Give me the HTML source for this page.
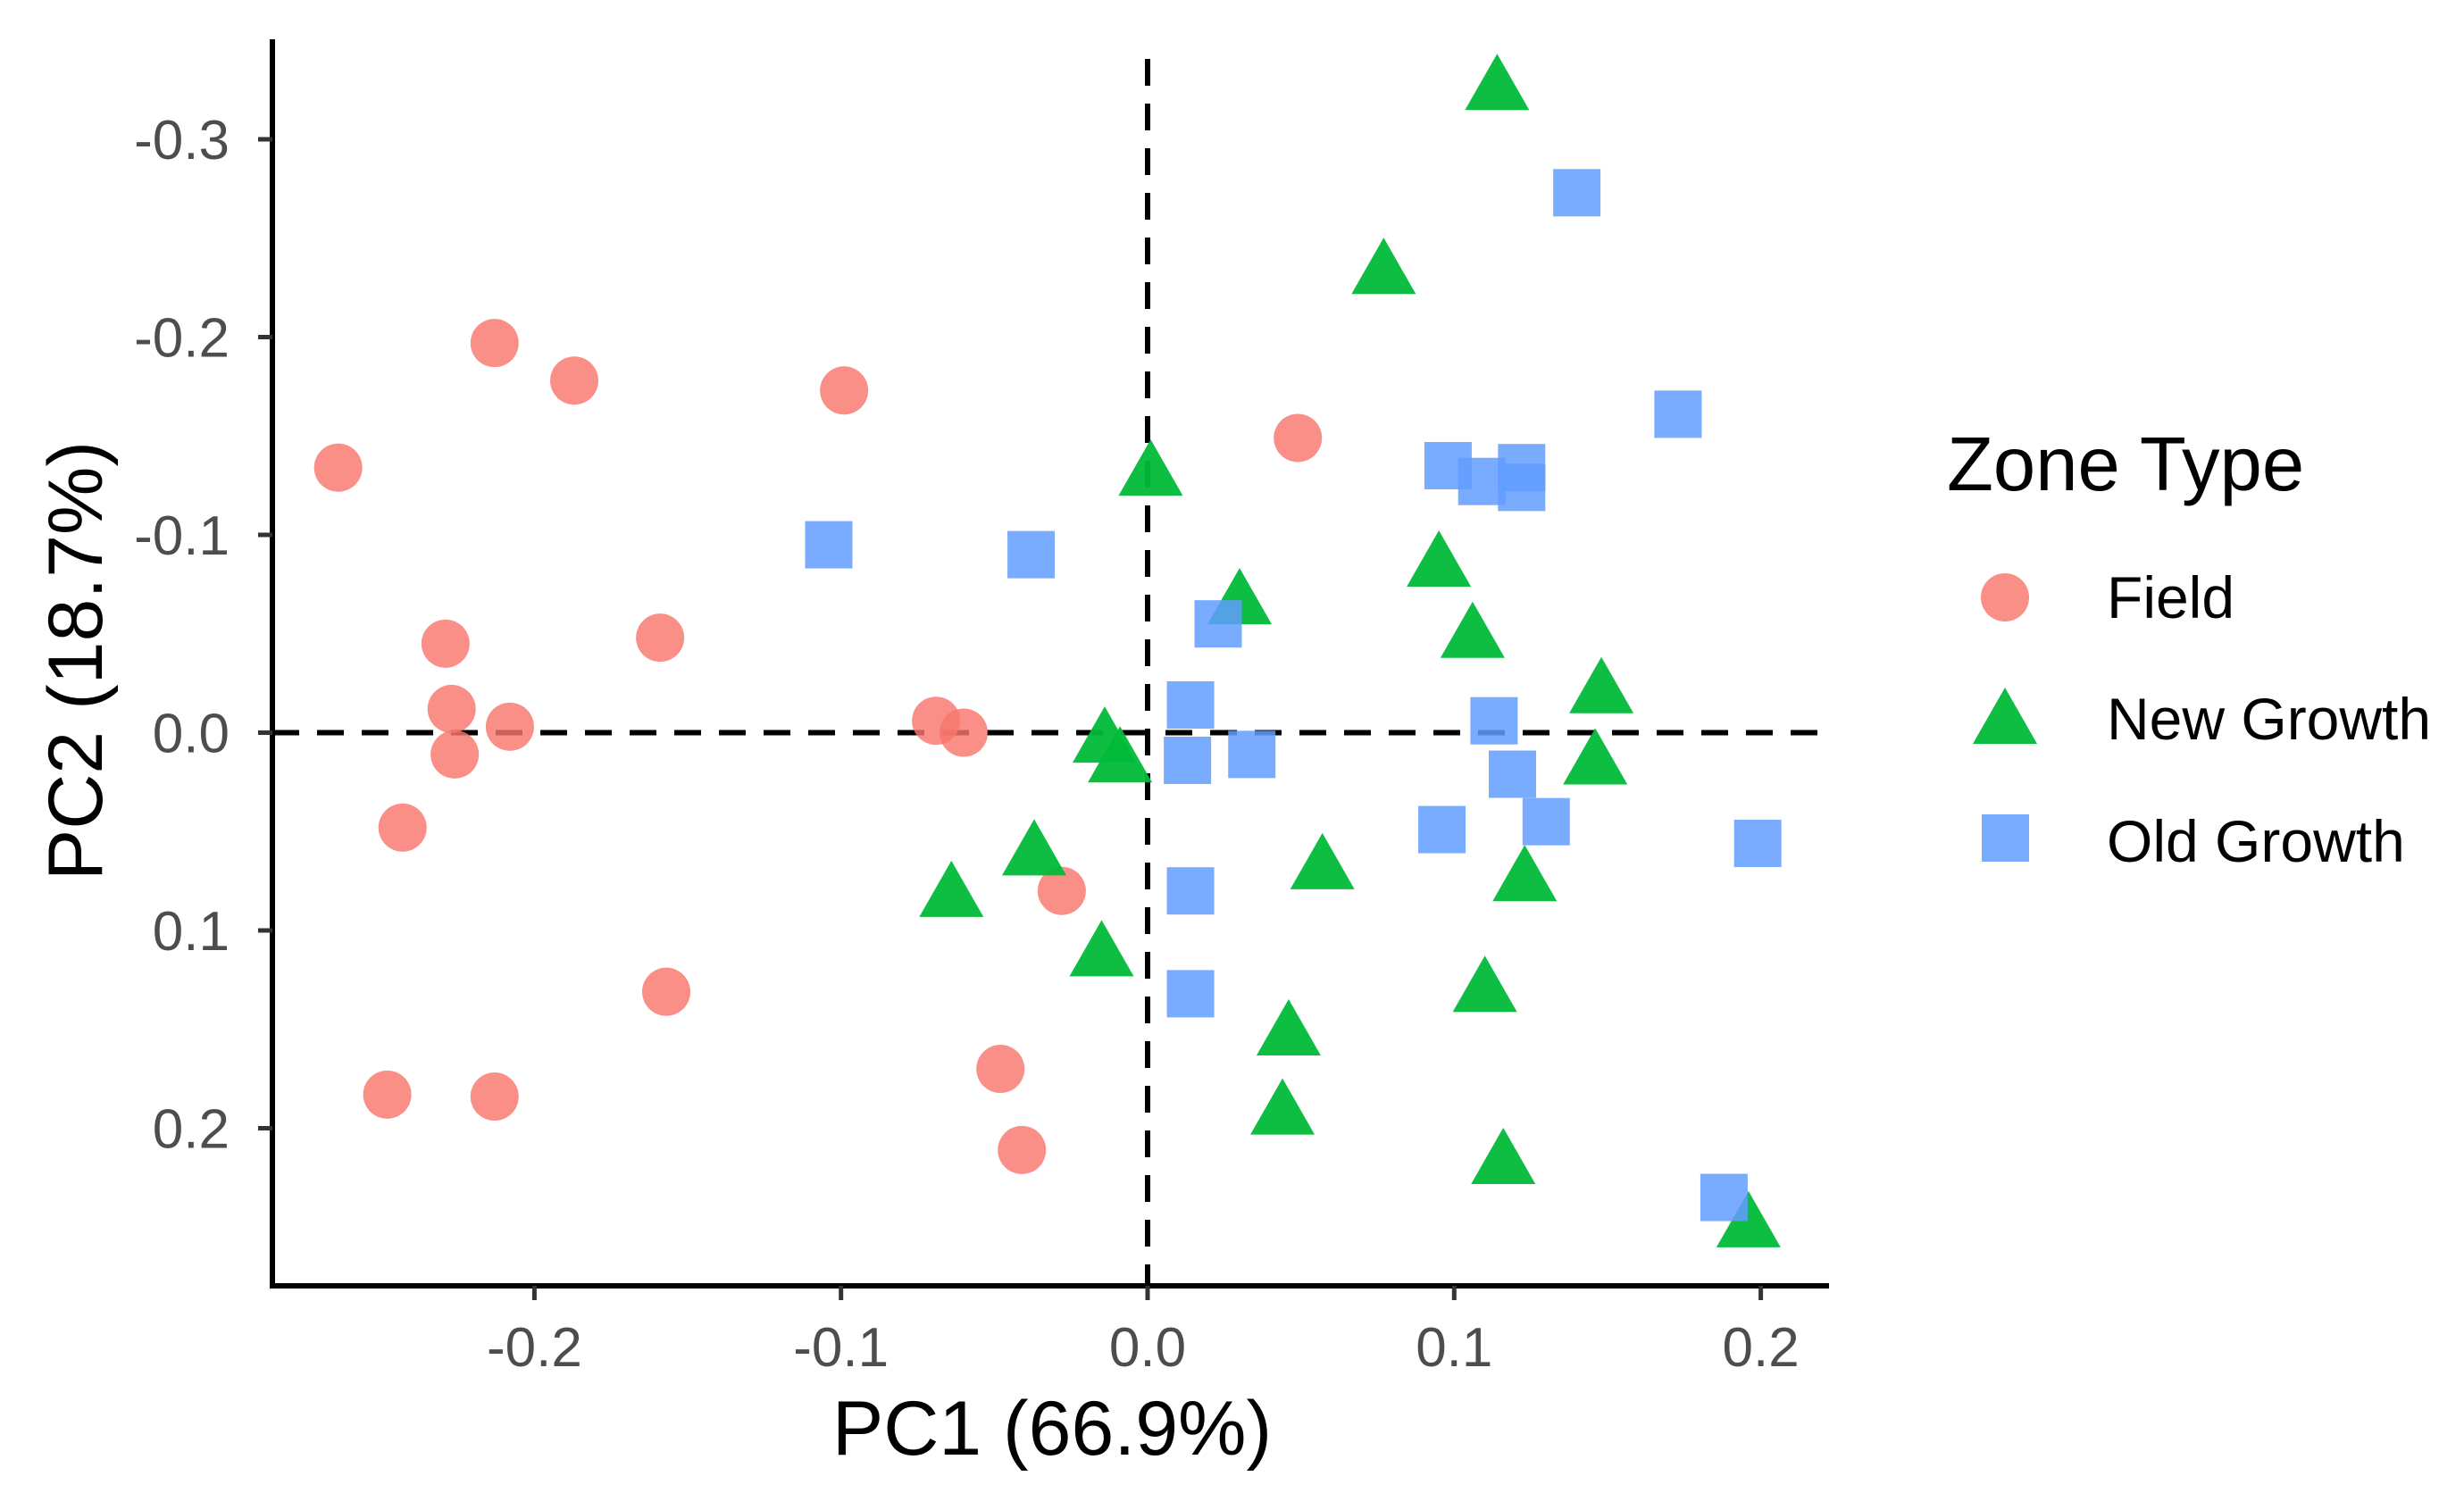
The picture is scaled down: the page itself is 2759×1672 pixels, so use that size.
<!DOCTYPE html>
<html><head><meta charset="utf-8"><style>
html,body{margin:0;padding:0;background:#fff;}
svg{display:block;font-family:"Liberation Sans",Arial,sans-serif;}
</style></head><body>
<svg id="chart" width="2759" height="1672" viewBox="0 0 2759 1672">
<g id="grid"></g>
<g id="marks"></g>
<g id="axes"></g>
<g>
  <text x="2180" y="549" font-size="85" fill="#000">Zone Type</text>
  <circle cx="2245" cy="669" r="27" fill="#F8766D" fill-opacity="0.82"/>
  <text x="2359" y="692" font-size="66" fill="#000">Field</text>
  <polygon points="2245,770 2281,833 2209,833" fill="#00BA38" fill-opacity="0.95"/>
  <text x="2359" y="828" font-size="66" fill="#000">New Growth</text>
  <rect x="2219" y="912" width="53" height="53" fill="#619CFF" fill-opacity="0.85"/>
  <text x="2359" y="965" font-size="66" fill="#000">Old Growth</text>
</g>
<text x="1178" y="1629" font-size="86" text-anchor="middle" fill="#000">PC1 (66.9%)</text>
<text transform="translate(114,740) rotate(-90)" font-size="86" text-anchor="middle" fill="#000">PC2 (18.7%)</text>
</svg>
<script>
const xTicks = [-0.2, -0.1, 0.0, 0.1, 0.2];
const xTickLabels = ["-0.2", "-0.1", "0.0", "0.1", "0.2"];
const yTicks = [-0.3, -0.2, -0.1, 0.0, 0.1, 0.2];
const yTickLabels = ["-0.3", "-0.2", "-0.1", "0.0", "0.1", "0.2"];
const fieldX = [-0.264,-0.213,-0.187,-0.099,0.049,-0.229,-0.159,-0.227,-0.208,-0.226,-0.243,-0.069,-0.060,-0.028,-0.157,-0.048,-0.248,-0.213,-0.041];
const fieldY = [-0.134,-0.197,-0.178,-0.173,-0.149,-0.045,-0.048,-0.012,-0.003,0.011,0.048,-0.006,0.000,0.080,0.131,0.170,0.183,0.184,0.211];
const newX = [0.114,0.077,0.001,0.095,0.030,0.106,0.148,-0.014,-0.009,0.146,-0.037,-0.064,0.057,0.123,-0.015,0.110,0.046,0.044,0.116,0.196];
const newY = [-0.327,-0.234,-0.132,-0.086,-0.067,-0.050,-0.022,0.003,0.013,0.014,0.060,0.081,0.067,0.073,0.111,0.129,0.151,0.191,0.216,0.248];
const oldX = [0.140,0.173,0.098,0.109,0.122,0.122,-0.104,-0.038,0.023,0.014,0.113,0.013,0.034,0.119,0.130,0.096,0.199,0.014,0.014,0.188];
const oldY = [-0.273,-0.161,-0.135,-0.127,-0.134,-0.124,-0.095,-0.090,-0.055,-0.014,-0.006,0.014,0.011,0.021,0.045,0.049,0.056,0.080,0.132,0.235];

const NS = "http://www.w3.org/2000/svg";
const X0 = 1285, XS = 3433, Y0 = 820.5, YS = 2215;
const PL = 305, PR = 2048, PT = 44, PB = 1440;
function sx(v){ return X0 + v * XS; }
function sy(v){ return Y0 + v * YS; }
function mk(parent, tag, attrs){
  const e = document.createElementNS(NS, tag);
  for (const k in attrs) e.setAttribute(k, attrs[k]);
  parent.appendChild(e);
  return e;
}
const grid = document.getElementById('grid');
const marks = document.getElementById('marks');
const axes = document.getElementById('axes');

let l = mk(grid, 'line', {x1: sx(0), x2: sx(0), y1: 66, y2: PB, stroke: '#000', 'stroke-width': 6, 'stroke-dasharray': '30 20'});


l = mk(grid, 'line', {x1: PL, x2: 2052, y1: sy(0), y2: sy(0), stroke: '#000', 'stroke-width': 6, 'stroke-dasharray': '30 20'});



for (let i = 0; i < fieldX.length; i++) {
  const c = mk(marks, 'circle', {cx: sx(fieldX[i]), cy: sy(fieldY[i]), r: 27, fill: '#F8766D', 'fill-opacity': 0.82});
  
  
}
for (let i = 0; i < newX.length; i++) {
  const x = sx(newX[i]), y = sy(newY[i]);
  const p = mk(marks, 'polygon', {points: `${x},${y-36} ${x+36},${y+27} ${x-36},${y+27}`, fill: '#00BA38', 'fill-opacity': 0.95});
  
  
}
for (let i = 0; i < oldX.length; i++) {
  const r = mk(marks, 'rect', {x: sx(oldX[i]) - 26.5, y: sy(oldY[i]) - 26.5, width: 53, height: 53, fill: '#619CFF', 'fill-opacity': 0.85});
  
  
}

l = mk(axes, 'line', {x1: PL, x2: PL, y1: PT, y2: PB + 3, stroke: '#000', 'stroke-width': 6});


l = mk(axes, 'line', {x1: PL - 3, x2: PR, y1: PB, y2: PB, stroke: '#000', 'stroke-width': 6});



xTicks.forEach((v, i) => {
  const t = mk(axes, 'line', {x1: sx(v), x2: sx(v), y1: PB, y2: PB + 16, stroke: '#333', 'stroke-width': 5});
  
  
  const tx = mk(axes, 'text', {x: sx(v), y: 1530, 'font-size': 62, 'text-anchor': 'middle', fill: '#4d4d4d'});
  tx.textContent = xTickLabels[i];
  
  
});
yTicks.forEach((v, i) => {
  const t = mk(axes, 'line', {x1: PL - 16, x2: PL, y1: sy(v), y2: sy(v), stroke: '#333', 'stroke-width': 5});
  
  
  const tx = mk(axes, 'text', {x: 257, y: sy(v) + 22, 'font-size': 62, 'text-anchor': 'end', fill: '#4d4d4d'});
  tx.textContent = yTickLabels[i];
  
  
});
</script>
</body></html>
